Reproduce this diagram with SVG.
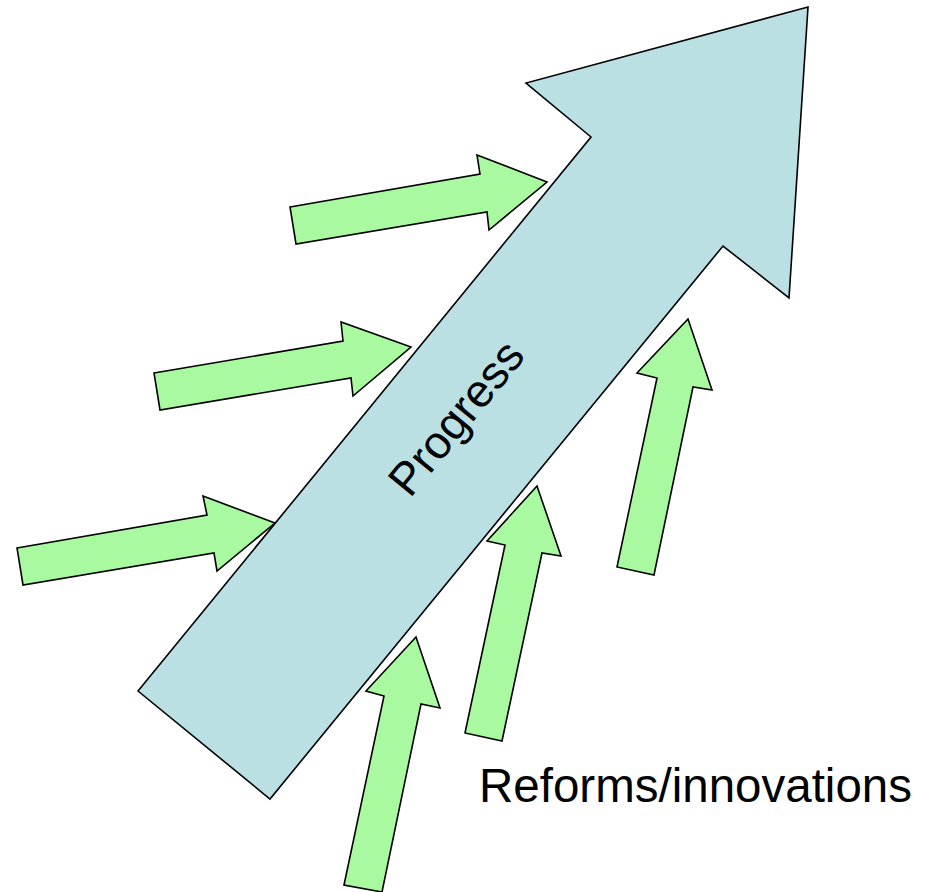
<svg xmlns="http://www.w3.org/2000/svg" width="930" height="892" viewBox="0 0 930 892">
<style>
.big{fill:#bbe0e3;stroke:#000;stroke-width:1.6;stroke-linejoin:miter}
.g{fill:#a9f9a1;stroke:#000;stroke-width:1.6;stroke-linejoin:miter}
.t{font-family:"Liberation Sans",Arial,sans-serif;fill:#000}
</style>
<rect width="930" height="892" fill="#fff"/>
<g id="progress">
<polygon class="big" points="138,691 591,137 526,83 808,7 789,298 723,246 270,799"/>
<text class="t" font-size="46" transform="translate(410,499) rotate(-50.7)">Progress</text>
</g>
<g id="connectors">
<polygon class="g" points="290,207 480,174 477,155 547,182 489,230 487,212 296,244"/>
<polygon class="g" points="154,373 343,341 341,322 411,347 353,396 351,378 160,410"/>
<polygon class="g" points="17,548 207,515 203,496 275,523 217,571 214,553 23,585"/>
<polygon class="g" points="617,567 657,378 637,373 688,319 712,390 693,387 654,575"/>
<polygon class="g" points="465,733 505,545 487,541 537,486 561,556 542,553 502,741"/>
<polygon class="g" points="344,885 384,696 366,691 416,637 440,708 421,704 382,892"/>
</g>
<g id="label">
<text class="t" x="479" y="802" font-size="47.5">Reforms/innovations</text>
</g>
</svg>
